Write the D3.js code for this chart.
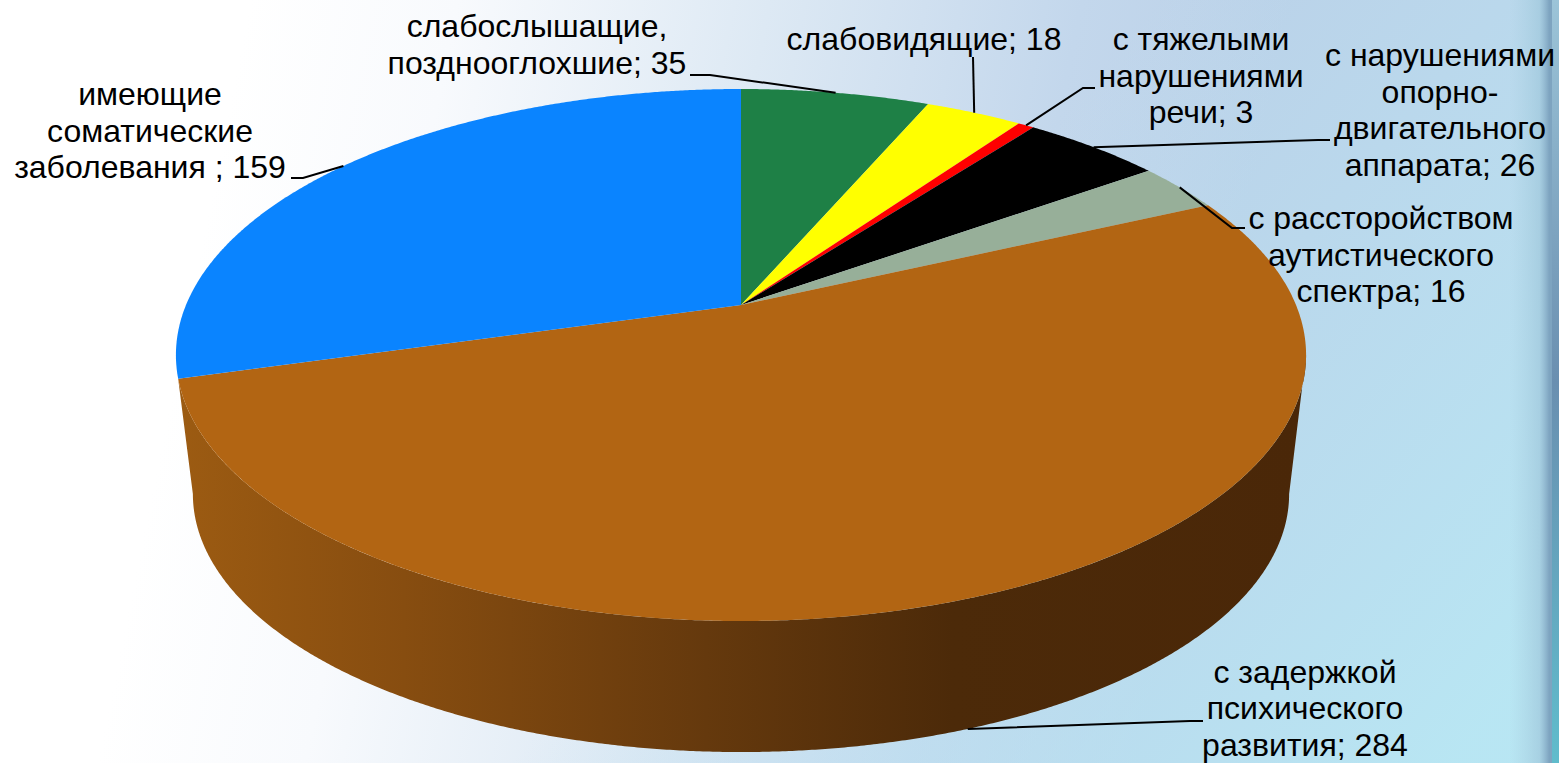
<!DOCTYPE html>
<html>
<head>
<meta charset="utf-8">
<script src="https://cdn.jsdelivr.net/npm/d3@7"></script>
<style>
  html, body { margin: 0; padding: 0; overflow: hidden; background: #fff; }
  svg { display: block; }
  text { font-family: "Liberation Sans", Arial, sans-serif; font-size: 32px; fill: #000; }
</style>
</head>
<body>
<div id="chart"></div>
<script>
// Data, clockwise from 12 o'clock
const categories = [
  "слабослышащие, позднооглохшие",
  "слабовидящие",
  "с тяжелыми нарушениями речи",
  "с нарушениями опорно-двигательного аппарата",
  "с рассторойством аутистического спектра",
  "с задержкой психического развития",
  "имеющие соматические заболевания"
];
const values = [35, 18, 3, 26, 16, 284, 159];
const labelLines = [
  ["слабослышащие,", "позднооглохшие; 35"],
  ["слабовидящие; 18"],
  ["с тяжелыми", "нарушениями", "речи; 3"],
  ["с нарушениями", "опорно-", "двигательного", "аппарата; 26"],
  ["с рассторойством", "аутистического", "спектра; 16"],
  ["с задержкой", "психического", "развития; 284"],
  ["имеющие", "соматические", "заболевания ; 159"]
];

// Styling and layout, same order as the data
const colors = ["#1e8046", "#ffff00", "#ff0000", "#000000", "#97af99", "#b26513", "#0a84ff"];
const labelPos = [[537, 37], [924, 50], [1201, 50], [1440, 66], [1381, 229], [1305, 682.5], [150, 105]];
const lineStep = 36.7;
const leaderElbows = [
  [[710, 75], [690, 75]],
  [[973, 57]],
  [[1083, 88], [1095, 88]],
  [[1318, 140], [1330, 140]],
  [[1232, 228], [1245, 228]],
  [[1190, 721], [1203, 721]],
  [[303, 178], [291, 178]]
];

const width = 1559;
const height = 763;

// The disc is a circle seen in perspective: apex, half width factor, depth factor
const cx = 741;
const cy = 305;
const a = 555;
const b = 256.6;
const k = 0.188;
const wallDrop = 140.5;
const wallScale = 0.97;

function project(angle) {
  const X = Math.sin(angle);
  const Y = -Math.cos(angle);
  const den = 1 - k * Y;
  return [a * X / den, b * Y / den];
}
const topRim = angle => {
  const p = project(angle);
  return [cx + p[0], cy + p[1]];
};
const bottomRim = angle => {
  const p = project(angle);
  return [cx + wallScale * p[0], cy + wallDrop + wallScale * p[1]];
};

function sampleAngles(start, end) {
  const n = Math.max(2, Math.ceil((end - start) / 0.005));
  return d3.range(n + 1).map(i => start + (end - start) * i / n);
}

const svg = d3.select("#chart").append("svg")
  .attr("width", width)
  .attr("height", height);

const defs = svg.append("defs");

function addGradient(id, attrs, stops) {
  const g = defs.append("linearGradient").attr("id", id).attr("gradientUnits", "userSpaceOnUse");
  Object.keys(attrs).forEach(key => g.attr(key, attrs[key]));
  stops.forEach(s => {
    g.append("stop").attr("offset", s[0]).attr("stop-color", s[1]).attr("stop-opacity", s[2] === undefined ? 1 : s[2]);
  });
}

addGradient("bg", {x1: 250, y1: 0, x2: 1250, y2: 200}, [
  [0, "#ffffff"], [0.2, "#f8fafd"], [0.5, "#dde9f4"], [0.8, "#c3d7ec"], [1, "#bbd1e8"]
]);
addGradient("bgLow", {x1: 900, y1: 300, x2: 1450, y2: 763}, [
  [0, "#b8e4f4", 0], [1, "#b8e8f4", 0.9]
]);
addGradient("edge", {x1: 1510, y1: 0, x2: 1559, y2: 0}, [
  [0, "#a8cfe0", 0], [0.6, "#a0c8dc", 0.7], [0.8, "#7ea4c0", 1], [1, "#7ea4c0", 1]
]);
addGradient("edgeTone", {x1: 0, y1: 0, x2: 0, y2: 763}, [
  [0, "#9cc4d8"], [0.5, "#6a8fb0"], [1, "#60bccc"]
]);
addGradient("wall", {x1: 180, y1: 0, x2: 1300, y2: 0}, [
  [0, "#9c5b12"], [0.2, "#874d10"], [0.47, "#65390d"], [0.69, "#4c2a09"], [1, "#4a2708"]
]);

// Background
svg.append("rect").attr("width", width).attr("height", height).attr("fill", "url(#bg)");
svg.append("rect").attr("width", width).attr("height", height).attr("fill", "url(#bgLow)");
svg.append("rect").attr("x", 1510).attr("width", 49).attr("height", height).attr("fill", "url(#edge)");
svg.append("rect").attr("x", 1552).attr("width", 7).attr("height", height).attr("fill", "url(#edgeTone)");

const pie = d3.pie().sort(null).value(d => d);
const arcs = pie(values);

// Side wall is only seen on the big slice, built from thin quads as one path.
// The wall turns out of sight where the rim reaches its widest points.
const big = arcs[d3.greatestIndex(values)];
const wallStart = Math.max(big.startAngle, 0.5 * Math.PI + Math.asin(k));
const wallEnd = Math.max(big.endAngle, 1.5 * Math.PI - Math.asin(k));
const wallAngles = sampleAngles(wallStart, wallEnd);
let wallPath = "";
d3.pairs(wallAngles).forEach(pair => {
  const t0 = topRim(Math.min(pair[0], big.endAngle));
  const t1 = topRim(Math.min(pair[1], big.endAngle));
  const b1 = bottomRim(pair[1]);
  const b0 = bottomRim(pair[0]);
  wallPath += `M${t0}L${t1}L${b1}L${b0}Z`;
});
svg.append("path").attr("d", wallPath).attr("fill", "url(#wall)");

// Top surface
const lineGen = d3.line();
svg.selectAll("path.slice")
  .data(arcs)
  .enter()
  .append("path")
  .attr("class", "slice")
  .attr("fill", (d, i) => colors[i])
  .attr("d", d => lineGen([[cx, cy]].concat(sampleAngles(d.startAngle, d.endAngle).map(topRim))) + "Z");

// Leader lines start from the middle of the slice rim; big slice is hit on the wall bottom
arcs.forEach((d, i) => {
  const mid = (d.startAngle + d.endAngle) / 2;
  const start = d === big ? bottomRim(mid) : topRim(mid);
  svg.append("path")
    .attr("d", lineGen([start].concat(leaderElbows[i])))
    .attr("fill", "none")
    .attr("stroke", "#000")
    .attr("stroke-width", 2);
});

// Labels
labelLines.forEach((lines, i) => {
  const label = svg.append("text")
    .attr("text-anchor", "middle")
    .attr("data-category", categories[i]);
  lines.forEach((line, j) => {
    label.append("tspan")
      .attr("x", labelPos[i][0])
      .attr("y", labelPos[i][1] + j * lineStep)
      .text(line);
  });
});
</script>
</body>
</html>
